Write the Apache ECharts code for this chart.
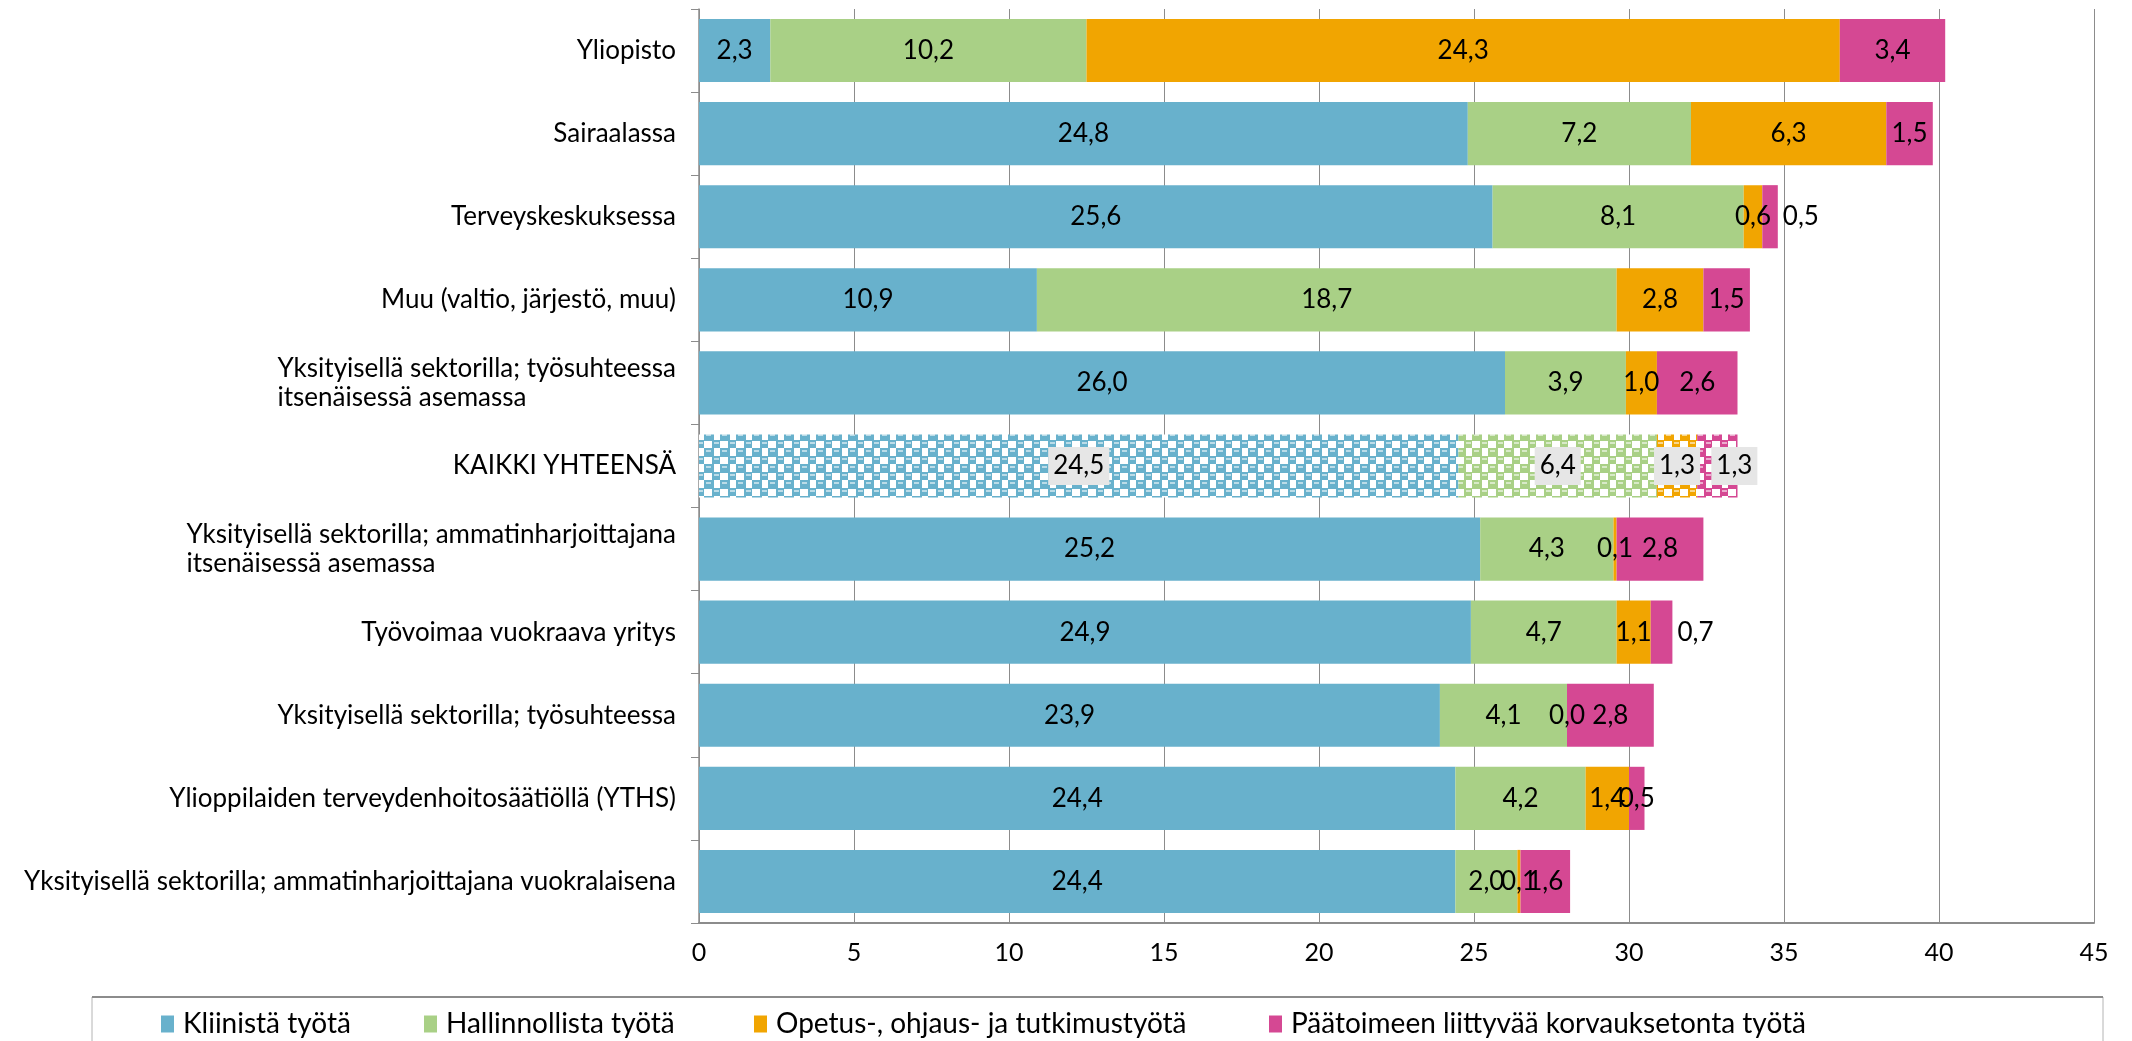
<!DOCTYPE html>
<html><head><meta charset="utf-8">
<script src="https://cdn.jsdelivr.net/npm/echarts@6/dist/echarts.min.js"></script>
<style>html,body{margin:0;padding:0;background:#fff}#c{width:2132px;height:1041px}</style>
</head><body><div id="c"></div>
<script>
const categories = [
  "Yliopisto",
  "Sairaalassa",
  "Terveyskeskuksessa",
  "Muu (valtio, järjestö, muu)",
  "Yksityisellä sektorilla; työsuhteessa\nitsenäisessä asemassa",
  "KAIKKI YHTEENSÄ",
  "Yksityisellä sektorilla; ammatinharjoittajana\nitsenäisessä asemassa",
  "Työvoimaa vuokraava yritys",
  "Yksityisellä sektorilla; työsuhteessa",
  "Ylioppilaiden terveydenhoitosäätiöllä (YTHS)",
  "Yksityisellä sektorilla; ammatinharjoittajana vuokralaisena"
];
const seriesNames = ["Kliinistä työtä", "Hallinnollista työtä", "Opetus-, ohjaus- ja tutkimustyötä", "Päätoimeen liittyvää korvauksetonta työtä"];
const kliininen      = [2.3, 24.8, 25.6, 10.9, 26.0, 24.5, 25.2, 24.9, 23.9, 24.4, 24.4];
const hallinnollinen = [10.2, 7.2, 8.1, 18.7, 3.9, 6.4, 4.3, 4.7, 4.1, 4.2, 2.0];
const opetus         = [24.3, 6.3, 0.6, 2.8, 1.0, 1.3, 0.1, 1.1, 0.0, 1.4, 0.1];
const korvaukseton   = [3.4, 1.5, 0.5, 1.5, 2.6, 1.3, 2.8, 0.7, 2.8, 0.5, 1.6];
const xMin = 0, xMax = 45, xInterval = 5;

const colors = ["#68b1cc", "#a9d086", "#f1a501", "#d54893"];
const totalIndex = 5;          // patterned row
const outsideLabels = {3: [2, 7]}; // series 3, category indices with label to the right

function makePattern(color) {
  const c = document.createElement('canvas');
  c.width = 16; c.height = 16;
  const g = c.getContext('2d');
  g.fillStyle = '#ffffff'; g.fillRect(0, 0, 16, 16);
  g.fillStyle = color;
  g.fillRect(0, 0, 10, 9); g.fillRect(8, 8, 10, 9); g.fillRect(-2, 8, 2, 9); g.fillRect(8, -1, 10, 1);
  g.fillStyle = 'rgba(255,255,255,0.55)';
  g.fillRect(2, 2, 5, 2); g.fillRect(10, 10, 5, 2);
  return c;
}

const fmt = v => Number(v).toFixed(1).replace('.', ',');
const FONT = 'Lato';
const dataSets = [kliininen, hallinnollinen, opetus, korvaukseton];

const series = dataSets.map((arr, si) => ({
  name: seriesNames[si],
  type: 'bar',
  stack: 'total',
  barCategoryGap: '24%',
  itemStyle: { color: colors[si] },
  label: {
    show: true, position: 'inside', color: '#000', fontSize: 26, fontFamily: FONT,
    formatter: p => fmt(p.value)
  },
  emphasis: { disabled: true },
  data: arr.map((v, ci) => {
    const o = { value: v };
    if (ci === totalIndex) {
      o.itemStyle = { color: { image: makePattern(colors[si]), repeat: 'repeat' } };
      o.label = { backgroundColor: '#e6e6e6', padding: [7, 5, 5, 5] };
      if (si === 3) o.label.offset = [17, 0];
    }
    if (outsideLabels[si] && outsideLabels[si].includes(ci)) {
      o.label = { position: 'right', distance: 5 };
    }
    return o;
  })
}));

const legends = seriesNames.map((n, i) => ({
  data: [n],
  left: [156, 419, 749, 1264][i],
  top: 1005,
  icon: 'rect',
  itemWidth: 13, itemHeight: 17,
  textStyle: { fontSize: 28, fontFamily: FONT, color: '#000', padding: [0, 0, 0, 4] },
  selectedMode: false
}));

const chart = echarts.init(document.getElementById('c'), null, { renderer: 'canvas' });
chart.setOption({
  animation: false,
  backgroundColor: '#fff',
  grid: { left: 699, right: 38, top: 9, bottom: 118, containLabel: false },
  xAxis: {
    type: 'value', min: xMin, max: xMax, interval: xInterval,
    axisLine: { show: true, lineStyle: { color: '#8c8c8c', width: 2 } },
    axisTick: { show: false },
    splitLine: { show: true, lineStyle: { color: '#8c8c8c', width: 1 } },
    axisLabel: { fontSize: 25, fontFamily: FONT, color: '#000', margin: 17 }
  },
  yAxis: {
    type: 'category', inverse: true, data: categories,
    axisLine: { show: true, lineStyle: { color: '#8c8c8c', width: 1.5 } },
    axisTick: { show: true, length: 8, lineStyle: { color: '#8c8c8c' } },
    axisLabel: {
      fontSize: 26, fontFamily: FONT, color: '#000', margin: 23, lineHeight: 29,
      formatter: v => v.includes('\n') ? v.split('\n').map(s => '{l|' + s + '}').join('\n') : v,
      rich: { l: { align: 'left', fontSize: 26, fontFamily: FONT, color: '#000', lineHeight: 29 } }
    }
  },
  legend: legends,
  graphic: [
    { type: 'rect', shape: { x: 92, y: 997, width: 2011, height: 60 }, style: { fill: 'none', stroke: '#b4b4b4', lineWidth: 1 }, silent: true },
    { type: 'line', shape: { x1: 92, y1: 997, x2: 2103, y2: 997 }, style: { stroke: '#8c8c8c', lineWidth: 2 }, silent: true }
  ],
  series: series
});
</script>
</body></html>
